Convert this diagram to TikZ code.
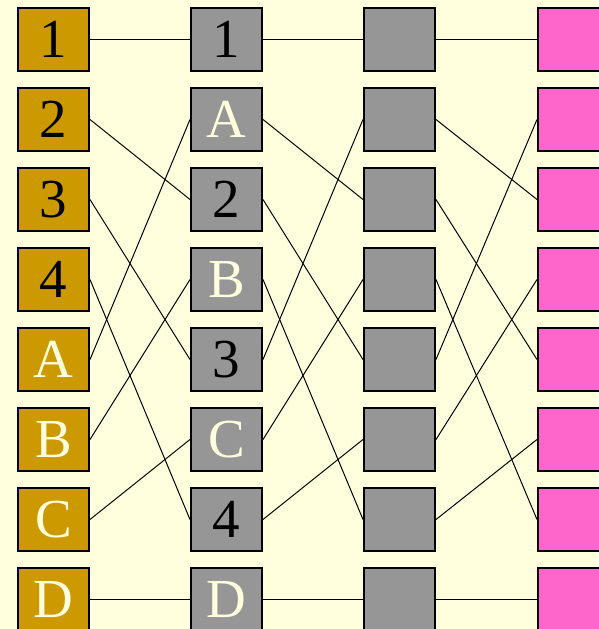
\documentclass[tikz,border=0pt]{standalone}
\usepackage{fontspec}
\setmainfont{Liberation Serif}
\usetikzlibrary{positioning}
\definecolor{paper}{HTML}{FFFFDD}
\definecolor{gold}{HTML}{CC9900}
\definecolor{slate}{HTML}{969696}
\definecolor{rose}{HTML}{FF66CC}
\tikzset{
  cell/.style={draw,line width=2pt,minimum width=71pt,minimum height=63pt,inner sep=0pt,font=\fontsize{55}{55}\selectfont},
  input/.style={cell,fill=gold},
  stage/.style={cell,fill=slate},
  output/.style={cell,fill=rose},
  digit/.style={text=black},
  letter/.style={text=paper},
  wire/.style={line width=1pt}
}
\begin{document}
\begin{tikzpicture}[x=1pt,y=-1pt]
  \fill[paper] (0,0) rectangle (598,629);
  \useasboundingbox (0,0) rectangle (598,629);
  % input column
  \foreach \t/\k [count=\i from 0] in {1/digit,2/digit,3/digit,4/digit,A/letter,B/letter,C/letter,D/letter}
    \node[input,\k] (a\i) at (53.5,39.5+80*\i) {\t};
  % first shuffle stage
  \foreach \t/\k [count=\i from 0] in {1/digit,A/letter,2/digit,B/letter,3/digit,C/letter,4/digit,D/letter}
    \node[stage,\k] (b\i) at (226.5,39.5+80*\i) {\t};
  % second stage and output
  \foreach \i in {0,...,7} {
    \node[stage] (c\i) at (399.5,39.5+80*\i) {};
    \node[output] (d\i) at (573.5,39.5+80*\i) {};
  }
  % perfect shuffle wiring
  \foreach \s/\d in {0/0,1/2,2/4,3/6,4/1,5/3,6/5,7/7} {
    \draw[wire] (a\s.east) -- (b\d.west);
    \draw[wire] (b\s.east) -- (c\d.west);
    \draw[wire] (c\s.east) -- (d\d.west);
  }
\end{tikzpicture}
\end{document}
